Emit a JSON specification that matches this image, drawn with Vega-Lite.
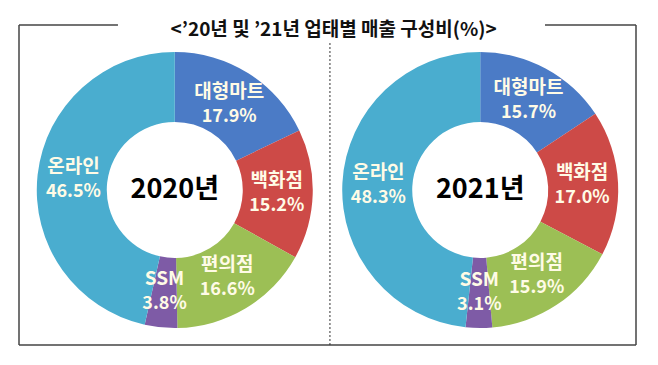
{
  "$schema": "https://vega.github.io/schema/vega-lite/v6.json",
  "width": 617,
  "height": 310,
  "autosize": "none",
  "padding": {"left": 19, "top": 35, "right": 22, "bottom": 20},
  "background": "white",
  "view": {"stroke": null},
  "config": {"font": "Noto Sans CJK KR"},
  "resolve": {"scale": {"x": "independent", "y": "independent"}},
  "data": {"values": [
    {"year": 2020, "name": "대형마트", "rank": 1, "share": 0.179},
    {"year": 2020, "name": "백화점", "rank": 2, "share": 0.152},
    {"year": 2020, "name": "편의점", "rank": 3, "share": 0.166},
    {"year": 2020, "name": "SSM", "rank": 4, "share": 0.038},
    {"year": 2020, "name": "온라인", "rank": 5, "share": 0.465},
    {"year": 2021, "name": "대형마트", "rank": 1, "share": 0.157},
    {"year": 2021, "name": "백화점", "rank": 2, "share": 0.170},
    {"year": 2021, "name": "편의점", "rank": 3, "share": 0.159},
    {"year": 2021, "name": "SSM", "rank": 4, "share": 0.031},
    {"year": 2021, "name": "온라인", "rank": 5, "share": 0.483}
  ]},
  "layer": [
    {
      "transform": [{"filter": "datum.year == 2020"}],
      "mark": {"type": "arc", "radius": 138, "radius2": 68},
      "encoding": {
        "x": {"field": "year", "type": "ordinal", "scale": {"type": "point", "domain": [2020, 2021], "padding": 0.51}, "axis": null},
        "theta": {"field": "share", "type": "quantitative", "stack": true},
        "order": {"field": "rank", "type": "quantitative"},
        "color": {"field": "name", "type": "nominal", "legend": null,
          "scale": {"domain": ["대형마트", "백화점", "편의점", "SSM", "온라인"], "range": ["#4B7BC6", "#CD4A47", "#9CBF55", "#7E5BA6", "#4AADCF"]}}
      }
    },
    {
      "transform": [{"filter": "datum.year == 2021"}],
      "mark": {"type": "arc", "radius": 138, "radius2": 68},
      "encoding": {
        "x": {"field": "year", "type": "ordinal", "scale": {"type": "point", "domain": [2020, 2021], "padding": 0.51}, "axis": null},
        "theta": {"field": "share", "type": "quantitative", "stack": true},
        "order": {"field": "rank", "type": "quantitative"},
        "color": {"field": "name", "type": "nominal", "legend": null}
      }
    },
    {
      "transform": [{"filter": "datum.year == 2020"}],
      "mark": {"type": "text", "radius": 102, "dy": -12, "fontSize": 19, "fontWeight": "bold", "color": "#FFFBE6"},
      "encoding": {
        "x": {"field": "year", "type": "ordinal", "scale": {"type": "point", "domain": [2020, 2021], "padding": 0.51}, "axis": null},
        "theta": {"field": "share", "type": "quantitative", "stack": true},
        "order": {"field": "rank", "type": "quantitative"},
        "text": {"field": "name"}
      }
    },
    {
      "transform": [{"filter": "datum.year == 2020"}],
      "mark": {"type": "text", "radius": 102, "dy": 13, "fontSize": 18, "fontWeight": "bold", "color": "#FFFBE6"},
      "encoding": {
        "x": {"field": "year", "type": "ordinal", "scale": {"type": "point", "domain": [2020, 2021], "padding": 0.51}, "axis": null},
        "theta": {"field": "share", "type": "quantitative", "stack": true},
        "order": {"field": "rank", "type": "quantitative"},
        "text": {"field": "share", "type": "quantitative", "format": ".1%"}
      }
    },
    {
      "transform": [{"filter": "datum.year == 2021"}],
      "mark": {"type": "text", "radius": 102, "dy": -12, "fontSize": 19, "fontWeight": "bold", "color": "#FFFBE6"},
      "encoding": {
        "x": {"field": "year", "type": "ordinal", "scale": {"type": "point", "domain": [2020, 2021], "padding": 0.51}, "axis": null},
        "theta": {"field": "share", "type": "quantitative", "stack": true},
        "order": {"field": "rank", "type": "quantitative"},
        "text": {"field": "name"}
      }
    },
    {
      "transform": [{"filter": "datum.year == 2021"}],
      "mark": {"type": "text", "radius": 102, "dy": 13, "fontSize": 18, "fontWeight": "bold", "color": "#FFFBE6"},
      "encoding": {
        "x": {"field": "year", "type": "ordinal", "scale": {"type": "point", "domain": [2020, 2021], "padding": 0.51}, "axis": null},
        "theta": {"field": "share", "type": "quantitative", "stack": true},
        "order": {"field": "rank", "type": "quantitative"},
        "text": {"field": "share", "type": "quantitative", "format": ".1%"}
      }
    },
    {
      "data": {"values": [{"year": 2020, "label": "2020년"}, {"year": 2021, "label": "2021년"}]},
      "mark": {"type": "text", "fontSize": 27, "fontWeight": "bold", "color": "#000000"},
      "encoding": {
        "x": {"field": "year", "type": "ordinal", "scale": {"type": "point", "domain": [2020, 2021], "padding": 0.51}, "axis": null},
        "text": {"field": "label"}
      }
    },
    {
      "data": {"values": [{"title": "<’20년 및 ’21년 업태별 매출 구성비(%)>"}]},
      "mark": {"type": "text", "fontSize": 19, "fontWeight": "bold", "letterSpacing": 0.4, "color": "#111111"},
      "encoding": {
        "x": {"datum": 2020.52, "type": "quantitative", "scale": {"domain": [2019.49, 2021.51], "nice": false, "zero": false}, "axis": null},
        "y": {"datum": 1.016, "type": "quantitative", "scale": {"domain": [0, 1], "nice": false}, "axis": null},
        "text": {"field": "title"}
      }
    },
    {
      "data": {"values": [{}]},
      "mark": {"type": "rule", "color": "#444444", "strokeWidth": 1.5},
      "encoding": {
        "x": {"datum": 2019.49, "type": "quantitative", "scale": {"domain": [2019.49, 2021.51], "nice": false, "zero": false}, "axis": null},
        "y": {"datum": 0, "type": "quantitative", "scale": {"domain": [0, 1], "nice": false}, "axis": null},
        "y2": {"datum": 1.032}
      }
    },
    {
      "data": {"values": [{}]},
      "mark": {"type": "rule", "color": "#444444", "strokeWidth": 1.5},
      "encoding": {
        "x": {"datum": 2021.51, "type": "quantitative", "scale": {"domain": [2019.49, 2021.51], "nice": false, "zero": false}, "axis": null},
        "y": {"datum": 0, "type": "quantitative", "scale": {"domain": [0, 1], "nice": false}, "axis": null},
        "y2": {"datum": 1.032}
      }
    },
    {
      "data": {"values": [{}]},
      "mark": {"type": "rule", "color": "#444444", "strokeWidth": 1.5},
      "encoding": {
        "x": {"datum": 2019.49, "type": "quantitative", "scale": {"domain": [2019.49, 2021.51], "nice": false, "zero": false}, "axis": null},
        "x2": {"datum": 2021.51},
        "y": {"datum": 0, "type": "quantitative", "scale": {"domain": [0, 1], "nice": false}, "axis": null}
      }
    },
    {
      "data": {"values": [{}]},
      "mark": {"type": "rule", "color": "#444444", "strokeWidth": 1.5},
      "encoding": {
        "x": {"datum": 2019.49, "type": "quantitative", "scale": {"domain": [2019.49, 2021.51], "nice": false, "zero": false}, "axis": null},
        "x2": {"datum": 2019.814},
        "y": {"datum": 1.032, "type": "quantitative", "scale": {"domain": [0, 1], "nice": false}, "axis": null}
      }
    },
    {
      "data": {"values": [{}]},
      "mark": {"type": "rule", "color": "#444444", "strokeWidth": 1.5},
      "encoding": {
        "x": {"datum": 2021.212, "type": "quantitative", "scale": {"domain": [2019.49, 2021.51], "nice": false, "zero": false}, "axis": null},
        "x2": {"datum": 2021.51},
        "y": {"datum": 1.032, "type": "quantitative", "scale": {"domain": [0, 1], "nice": false}, "axis": null}
      }
    },
    {
      "data": {"values": [{}]},
      "mark": {"type": "rule", "color": "#333333", "strokeWidth": 1, "strokeDash": [2, 2]},
      "encoding": {
        "x": {"datum": 2020.508, "type": "quantitative", "scale": {"domain": [2019.49, 2021.51], "nice": false, "zero": false}, "axis": null},
        "y": {"datum": 0, "type": "quantitative", "scale": {"domain": [0, 1], "nice": false}, "axis": null},
        "y2": {"datum": 0.977}
      }
    }
  ]
}
